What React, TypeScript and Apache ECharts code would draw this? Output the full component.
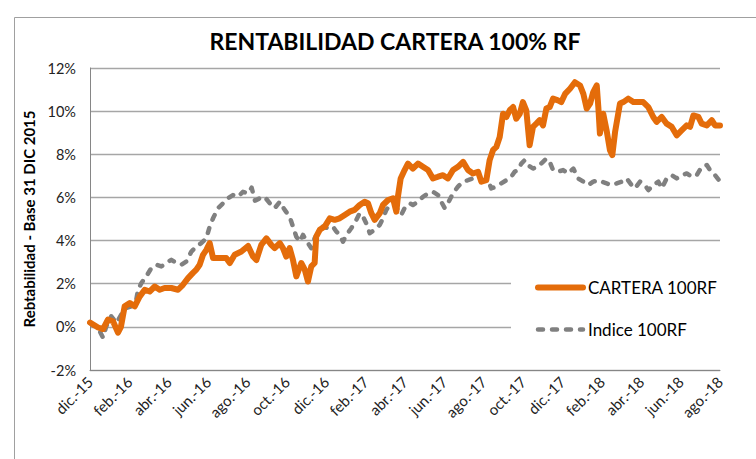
import React, { useEffect, useRef } from "react";
import * as echarts from "echarts";

// Tick labels on the x axis (one every two months, starting at dic.-15 = month 0)
const monthLabels = [
  "dic.-15", "feb.-16", "abr.-16", "jun.-16", "ago.-16", "oct.-16", "dic.-16",
  "feb.-17", "abr.-17", "jun.-17", "ago.-17", "oct.-17", "dic.-17",
  "feb.-18", "abr.-18", "jun.-18", "ago.-18",
];

const seriesNames = ["CARTERA 100RF", "Indice 100RF"];

// [months since 31 dic 2015, return %]
const carteraPoints: [number, number][] = [
  [0, 0.2], [0.41, -0.03], [0.66, -0.1], [0.91, 0.34], [1.17, 0.26], [1.42, -0.27],
  [1.57, 0], [1.76, 0.95], [2.02, 1.1], [2.27, 0.95], [2.52, 1.4], [2.78, 1.72],
  [3.03, 1.64], [3.29, 1.87], [3.54, 1.72], [3.79, 1.8], [4.13, 1.8], [4.47, 1.72],
  [4.72, 1.95], [4.98, 2.26], [5.23, 2.5], [5.4, 2.65], [5.57, 2.88], [5.74, 3.34],
  [5.91, 3.57], [6.08, 3.88], [6.25, 3.19], [6.59, 3.19], [6.92, 3.19], [7.1, 2.96],
  [7.35, 3.34], [7.69, 3.49], [8.03, 3.75], [8.28, 3.26], [8.45, 3.1], [8.7, 3.8],
  [8.96, 4.1], [9.21, 3.8], [9.38, 3.65], [9.64, 3.88], [9.8, 3.65], [9.97, 3.26],
  [10.14, 3.65], [10.31, 3.1], [10.48, 2.34], [10.73, 2.96], [10.91, 2.65], [11.07, 2.1],
  [11.24, 2.8], [11.41, 2.96], [11.49, 4.18], [11.67, 4.5], [11.92, 4.65], [12.18, 5.03],
  [12.43, 4.96], [12.68, 5.03], [12.94, 5.19], [13.19, 5.34], [13.44, 5.42], [13.7, 5.65],
  [13.95, 5.8], [14.12, 5.73], [14.29, 5.27], [14.46, 4.96], [14.72, 5.27], [14.88, 5.65],
  [15.14, 5.88], [15.39, 5.96], [15.56, 5.34], [15.64, 6.03], [15.78, 6.88], [15.98, 7.27],
  [16.15, 7.57], [16.4, 7.34], [16.66, 7.57], [16.91, 7.42], [17.17, 7.27], [17.42, 6.88],
  [17.68, 6.96], [17.93, 7.03], [18.18, 6.88], [18.44, 7.27], [18.69, 7.42], [18.95, 7.65],
  [19.2, 7.27], [19.45, 7.11], [19.71, 7.19], [19.88, 6.73], [20.13, 6.8], [20.3, 7.73],
  [20.47, 8.19], [20.64, 8.34], [20.81, 8.8], [20.98, 9.88], [21.15, 9.73], [21.32, 10.04],
  [21.49, 10.19], [21.65, 9.65], [21.83, 9.88], [21.99, 10.42], [22.16, 10.04], [22.33, 8.42],
  [22.5, 9.27], [22.67, 9.42], [22.84, 9.58], [23.01, 9.34], [23.18, 10.12], [23.35, 10.19],
  [23.52, 10.58], [23.77, 10.5], [23.94, 10.42], [24.13, 10.8], [24.38, 11.04], [24.63, 11.34],
  [24.89, 11.19], [25.06, 10.8], [25.23, 10.12], [25.4, 10.35], [25.56, 10.88], [25.74, 11.19],
  [25.82, 10.19], [25.9, 8.96], [26.07, 9.88], [26.24, 9.11], [26.41, 8.19], [26.53, 7.96],
  [26.67, 9.03], [26.83, 9.88], [26.92, 10.35], [27.09, 10.42], [27.34, 10.58], [27.6, 10.42],
  [27.85, 10.42], [28.1, 10.42], [28.36, 10.19], [28.61, 9.73], [28.78, 9.5], [29.04, 9.73],
  [29.29, 9.42], [29.55, 9.27], [29.8, 8.88], [30.05, 9.11], [30.31, 9.34], [30.48, 9.27],
  [30.65, 9.8], [30.9, 9.73], [31.07, 9.42], [31.33, 9.34], [31.58, 9.58], [31.75, 9.34],
  [32, 9.34],
];

const indicePoints: [number, number][] = [
  [0, 0.18], [0.24, 0.03], [0.49, -0.2], [0.66, -0.5], [0.83, 0.03], [1.08, 0.49],
  [1.34, 0.18], [1.59, 0.57], [1.84, 0.88], [2.1, 0.95], [2.35, 1.26], [2.44, 1.72],
  [2.61, 2.03], [2.86, 2.34], [3.11, 2.72], [3.37, 2.88], [3.62, 2.8], [3.88, 2.96],
  [4.13, 3.11], [4.38, 2.96], [4.64, 2.88], [4.89, 3.03], [5.15, 3.49], [5.4, 3.72],
  [5.65, 3.88], [5.91, 4.11], [6.08, 4.65], [6.25, 5.03], [6.5, 5.5], [6.76, 5.73],
  [7.01, 5.96], [7.26, 6.11], [7.52, 6.03], [7.77, 6.26], [8.03, 6.19], [8.21, 6.45],
  [8.38, 5.85], [8.62, 5.96], [8.87, 6.03], [9.13, 5.73], [9.38, 5.5], [9.64, 5.8],
  [9.89, 5.42], [10.14, 5.11], [10.31, 4.65], [10.48, 4.18], [10.65, 3.95], [10.82, 4.26],
  [11.07, 3.88], [11.24, 3.65], [11.41, 4.11], [11.58, 4.34], [11.83, 4.65], [12.09, 4.57],
  [12.34, 4.65], [12.51, 4.42], [12.68, 4.26], [12.85, 3.95], [13.02, 4.26], [13.27, 4.57],
  [13.53, 4.96], [13.7, 5.27], [13.87, 5.11], [14.03, 4.8], [14.21, 4.34], [14.46, 4.5],
  [14.72, 4.73], [14.88, 5.03], [15.05, 5.42], [15.22, 5.65], [15.48, 5.65], [15.64, 5.42],
  [15.81, 5.19], [15.98, 5.5], [16.24, 5.73], [16.4, 5.65], [16.66, 5.8], [16.91, 6.03],
  [17.17, 6.19], [17.42, 6.26], [17.68, 6.11], [17.84, 5.8], [18.02, 5.5], [18.18, 5.73],
  [18.44, 6.19], [18.69, 6.5], [18.95, 6.73], [19.2, 6.8], [19.45, 6.88], [19.71, 6.88],
  [19.96, 6.8], [20.22, 6.8], [20.38, 6.42], [20.64, 6.5], [20.89, 6.65], [21.15, 6.8],
  [21.4, 6.96], [21.57, 7.19], [21.74, 7.27], [21.91, 7.57], [22.08, 7.73], [22.25, 7.5],
  [22.5, 7.34], [22.75, 7.42], [23.01, 7.65], [23.18, 7.8], [23.35, 7.65], [23.52, 7.27],
  [23.77, 7.19], [24.03, 7.27], [24.28, 7.11], [24.55, 7.34], [24.8, 6.88], [25.06, 6.73],
  [25.31, 6.57], [25.56, 6.73], [25.82, 6.8], [25.99, 6.73], [26.24, 6.65], [26.5, 6.57],
  [26.75, 6.65], [27.01, 6.73], [27.26, 6.88], [27.51, 6.57], [27.68, 6.42], [27.94, 6.73],
  [28.19, 6.57], [28.36, 6.34], [28.61, 6.57], [28.87, 6.73], [29.04, 6.42], [29.29, 6.88],
  [29.55, 7.03], [29.8, 6.88], [30.05, 7.03], [30.31, 7.11], [30.56, 6.96], [30.82, 7.03],
  [31.07, 7.42], [31.33, 7.5], [31.49, 7.27], [31.75, 7.03], [31.95, 6.8],
];

const FONT = "Lato";
const ORANGE = "#E46C0A";
const GRAY = "#808080";

export default function App() {
  const ref = useRef<HTMLDivElement>(null);

  useEffect(() => {
    if (!ref.current) return;
    const chart = echarts.init(ref.current, undefined, { renderer: "svg" });
    chart.setOption({
      animation: false,
      backgroundColor: "#ffffff",
      textStyle: { fontFamily: FONT },
      title: {
        text: "RENTABILIDAD CARTERA 100% RF",
        left: 390,
        textAlign: "center",
        top: 24,
        textStyle: { fontFamily: FONT, fontWeight: "bold", fontSize: 23, color: "#000" },
      },
      grid: { left: 90, right: 36, top: 68, bottom: 89, containLabel: false },
      legend: {
        orient: "vertical",
        left: 511,
        top: 262,
        padding: [17, 8, 14, 24],
        backgroundColor: "#ffffff",
        itemGap: 25,
        itemWidth: 45,
        itemHeight: 16,
        z: 10,
        data: [
          { name: seriesNames[0], lineStyle: { width: 6, color: ORANGE, cap: "round" } },
          { name: seriesNames[1], lineStyle: { width: 4.5, color: GRAY, type: [5, 9], cap: "round" } },
        ],
        itemStyle: { opacity: 0 },
        textStyle: { fontFamily: FONT, fontSize: 17, color: "#000" },
      },
      xAxis: {
        type: "value",
        min: 0,
        max: 32,
        interval: 2,
        axisLine: { show: true, onZero: false, lineStyle: { color: "#868686", width: 1 } },
        axisTick: { show: false },
        splitLine: { show: false },
        axisLabel: {
          rotate: 45,
          margin: 9,
          fontFamily: FONT,
          fontSize: 15,
          color: "#222",
          formatter: (v: number) => monthLabels[Math.round(v / 2)] ?? "",
        },
      },
      yAxis: {
        type: "value",
        min: -2,
        max: 12,
        interval: 2,
        name: "Rebtabilidad - Base 31 DIC 2015",
        nameLocation: "middle",
        nameGap: 50,
        nameTextStyle: { fontFamily: FONT, fontWeight: "bold", fontSize: 15, color: "#000" },
        axisLine: { show: true, lineStyle: { color: "#868686", width: 1 } },
        axisTick: { show: false },
        splitLine: { show: true, lineStyle: { color: "#a6a6a6", width: 1.3 } },
        axisLabel: {
          margin: 14,
          fontFamily: FONT,
          fontSize: 14.5,
          color: "#222",
          formatter: "{value}%",
        },
      },
      series: [
        {
          name: seriesNames[0],
          type: "line",
          data: carteraPoints,
          showSymbol: false,
          symbol: "none",
          z: 3,
          lineStyle: { color: ORANGE, width: 6, cap: "round", join: "round" },
          itemStyle: { color: ORANGE },
        },
        {
          name: seriesNames[1],
          type: "line",
          data: indicePoints,
          showSymbol: false,
          symbol: "none",
          z: 2,
          lineStyle: { color: GRAY, width: 4.5, type: [5, 9], cap: "round", join: "round" },
          itemStyle: { color: GRAY },
        },
      ],
      graphic: [
        {
          type: "rect",
          left: 12,
          top: 15,
          shape: { width: 800, height: 500 },
          style: { fill: "none", stroke: "#a0a0a0", lineWidth: 1 },
          silent: true,
          z: -1,
        },
      ],
    });
    return () => chart.dispose();
  }, []);

  return (
    <div
      ref={ref}
      style={{ position: "absolute", left: 0, top: 0, width: 756, height: 459 }}
    />
  );
}
